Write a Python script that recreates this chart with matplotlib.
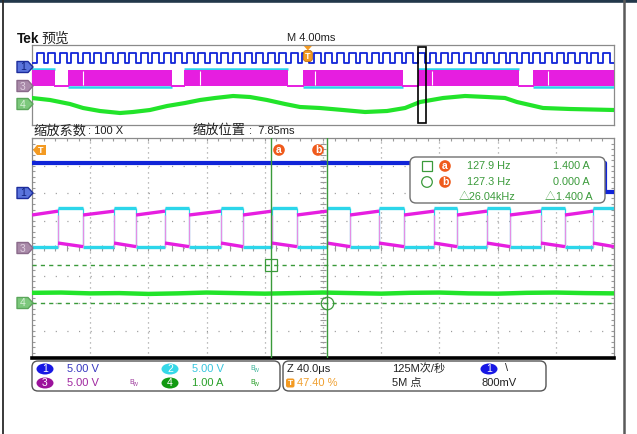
import numpy as np
import matplotlib
matplotlib.use('Agg')
import matplotlib.pyplot as plt
from matplotlib.patches import FancyBboxPatch, Polygon, Ellipse, Rectangle, Circle

plt.rcParams['font.family'] = ['Liberation Sans', 'Noto Sans CJK SC', 'DejaVu Sans']

# ---------------- data ----------------
# overview record: 4 ms/div, 10 div
ov_span_ms = 40.0
trigger_pct = 47.40
zoom_pos_ms = 7.85
zoom_span_ms = 0.40
ov_ch1_rise_ms = [0.32, 1.11, 1.91, 2.70, 3.50, 4.29, 5.08, 5.88, 6.67, 7.47,
                  8.26, 9.05, 9.85, 10.64, 11.44, 12.23, 13.02, 13.82, 14.61, 15.41,
                  16.20, 16.99, 17.79, 18.58, 19.38, 20.17, 20.96, 21.76, 22.55, 23.35,
                  24.14, 24.93, 25.73, 26.52, 27.32, 28.11, 28.90, 29.70, 30.49, 31.29,
                  32.08, 32.87, 33.67, 34.46, 35.26, 36.05, 36.84, 37.64, 38.43, 39.23]
ov_ch1_width_ms = 0.48
ov_ch1_levels_V = [2.0, 7.0]          # low, high
ov_ch3_levels_V = [0.0, 8.0]          # band bottom, top
ov_ch2_levels_V = [-0.4, 8.6]         # band bottom, top
ov_gaps_ms = [(1.58, 2.47), (9.62, 10.45), (17.60, 18.60), (25.50, 26.50), (33.50, 34.40)]
ov_seams_ms = [3.51, 11.55, 19.45, 27.49, 35.46]
ov_ch4_t_ms = [0, 1.24, 2.61, 3.51, 4.67, 6.05, 6.94, 8.11, 9.28, 10.52, 11.55, 12.58,
               13.82, 14.98, 16.15, 17.39, 18.42, 19.79, 21.37, 22.89, 24.40, 25.64,
               26.67, 28.25, 29.76, 31.27, 32.51, 33.33, 34.23, 35.12, 36.98, 40.0]
ov_ch4_A = [0.6, 0.4, 0.0, -0.4, -0.7, -0.9, -0.8, -0.6, -0.2, 0.1, 0.4, 0.6,
            0.8, 0.7, 0.4, 0.0, -0.3, -0.4, -0.6, -0.8, -0.7, -0.4,
            0.2, 0.6, 0.8, 0.7, 0.6, 0.2, -0.1, -0.4, -0.5, -0.6]

# zoom window: 40 us/div, 10 div
main_span_us = 400.0
ch1_fall_us = 394.0
ch1_levels_V = [0.2, 5.5]
ch2_rise_us = [17.9, 56.4, 91.4, 129.9, 164.9, 202.7, 238.5, 276.3, 312.7, 349.8, 385.6]
ch2_fall_us = [35.1, 71.5, 107.9, 145.0, 182.1, 218.6, 255.7, 292.1, 328.5, 366.3]
ch2_levels_V = [0.1, 7.3]
ch3_high_V = [6.0, 6.7]   # start, end of each high segment
ch3_low_V = [0.9, 0.25]   # start, end of each low segment
ch4_t_us = [0, 20, 40, 60, 80, 100, 120, 140, 160, 180, 200, 220, 240, 260, 280,
            300, 320, 340, 360, 380, 400]
ch4_A = [0.37, 0.38, 0.35, 0.36, 0.33, 0.35, 0.38, 0.36, 0.34, 0.36, 0.38, 0.36,
         0.34, 0.37, 0.38, 0.35, 0.34, 0.37, 0.38, 0.36, 0.35]
cursor_t_us = [164.6, 203.0]
cursor_A = [1.400, 0.000]

ch_offset_div = {1: 2.0, 2: 0.0, 3: 0.0, 4: -2.0}
ov_offset_div = {1: 1.8, 2: -0.1, 3: -0.1, 4: -1.9}
ch_scale = {1: 5.0, 2: 5.0, 3: 5.0, 4: 1.0}

# ---------------- style ----------------
W, H = 637, 434
OV_BOX = (32, 45, 614, 125)
MAIN_BOX = (32, 138, 614, 358)
BLUE = '#1024d8'
CYAN = '#2cd6ea'
MAG = '#e61ee0'
MAG_EDGE = '#e48ee4'
GREEN = '#22e42a'
CURG = '#3a9a3a'
ORANGE = '#ef5b1c'
TORANGE = '#f39a22'
GRID = '#9a9a9a'

fig = plt.figure(figsize=(W / 100, H / 100), dpi=100)
fig.patch.set_facecolor('white')


def px_axes(l, t, r, b, z):
    a = fig.add_axes([l / W, 1 - b / H, (r - l) / W, (b - t) / H], zorder=z)
    a.set_xticks([])
    a.set_yticks([])
    return a


def ydiv(ch, v, offs=ch_offset_div):
    return offs[ch] + np.asarray(v, dtype=float) / ch_scale[ch]


# ---------------- overview ----------------
ov = px_axes(*OV_BOX, 2)
ov.set_xlim(0, ov_span_ms)
ov.set_ylim(-4, 4)
for s in ov.spines.values():
    s.set_color('#8a8a8a')
    s.set_linewidth(0.9)

# ch1 square wave
xs, ys = [0.0], [ov_ch1_levels_V[0]]
for r in ov_ch1_rise_ms:
    f = r + ov_ch1_width_ms
    xs += [r, r, f, f]
    ys += [ov_ch1_levels_V[0], ov_ch1_levels_V[1], ov_ch1_levels_V[1], ov_ch1_levels_V[0]]
xs.append(ov_span_ms)
ys.append(ov_ch1_levels_V[0])
ov.plot(xs, ydiv(1, ys, ov_offset_div), color=BLUE, lw=1.3, zorder=5)

# ch2 / ch3 bands
seg_edges = [0.0] + [v for g in ov_gaps_ms for v in g] + [ov_span_ms]
segs = [(seg_edges[2 * i], seg_edges[2 * i + 1]) for i in range(len(seg_edges) // 2)]
c2b, c2t = ydiv(2, ov_ch2_levels_V, ov_offset_div)
c3b, c3t = ydiv(3, ov_ch3_levels_V, ov_offset_div)
for i, (a, b) in enumerate(segs):
    lvl = c2t if i % 2 == 0 else c2b
    ov.plot([a, b], [lvl, lvl], color=CYAN, lw=1.8, zorder=3, solid_capstyle='butt')
    ov.fill_between([a, b], c3b, c3t, color=MAG, lw=0, zorder=4)
for (a, b) in ov_gaps_ms:
    ov.plot([a, b], [c3b, c3b], color=MAG, lw=1.4, zorder=4)
ov.vlines(ov_seams_ms, c3b + 0.1, c3t - 0.1, color='white', lw=0.8, zorder=4.5)

# ch4
ov.plot(ov_ch4_t_ms, ydiv(4, ov_ch4_A, ov_offset_div), color=GREEN, lw=3.0, zorder=5)

# zoom window box
trig_ms = ov_span_ms * trigger_pct / 100
zc = trig_ms + zoom_pos_ms
ov.add_patch(Rectangle((zc - zoom_span_ms / 2 - 0.05, -3.8), zoom_span_ms + 0.1, 7.6,
                       fc='none', ec='black', lw=1.2, zorder=8))

# ---------------- main (zoom) ----------------
mn = px_axes(*MAIN_BOX, 2)
mn.set_xlim(0, main_span_us)
mn.set_ylim(-4, 4)
for k in ['top', 'left', 'right']:
    mn.spines[k].set_color('#8a8a8a')
    mn.spines[k].set_linewidth(0.9)
mn.spines['bottom'].set_color('black')
mn.spines['bottom'].set_linewidth(2.6)

# graticule
for k in range(1, 10):
    mn.axvline(k * 40, color=GRID, lw=0.9, ls=(0, (0.9, 3.1)), zorder=1)
for k in range(-3, 4):
    mn.axhline(k, color=GRID, lw=0.9, ls=(0, (0.9, 8.4)), zorder=1)
minor_y = np.linspace(-4, 4, 41)
minor_x = np.linspace(0, 400, 51)
mn.plot(np.full(41, 200.0), minor_y, ls='none', marker='_', ms=4.5, mew=0.8, color=GRID, zorder=1)
mn.plot(minor_x, np.zeros(51), ls='none', marker='|', ms=4.5, mew=0.8, color=GRID, zorder=1)
mn.plot(np.zeros(41), minor_y, ls='none', marker='_', ms=4, mew=0.8, color=GRID, zorder=1)
mn.plot(np.full(41, 400.0), minor_y, ls='none', marker='_', ms=4, mew=0.8, color=GRID, zorder=1)
mn.plot(minor_x, np.full(51, 4.0), ls='none', marker='|', ms=4, mew=0.8, color=GRID, zorder=1)


def step_segments(rise, fall, t_end, start_high=False):
    ev = sorted([(t, 1) for t in rise] + [(t, 0) for t in fall])
    out, t0, st = [], 0.0, int(start_high)
    for t, s in ev:
        out.append((t0, t, st))
        t0, st = t, s
    out.append((t0, t_end, st))
    return out


segs2 = step_segments(ch2_rise_us, ch2_fall_us, main_span_us)
edges = ch2_rise_us + ch2_fall_us
# ch2 cyan
lo2, hi2 = ydiv(2, ch2_levels_V)
for t0, t1, st in segs2:
    lv = hi2 if st else lo2
    mn.plot([t0, t1], [lv, lv], color=CYAN, lw=2.4, solid_capstyle='butt', zorder=3)
mn.vlines(edges, lo2, hi2, color=CYAN, lw=0.9, zorder=2.9)
# ch3 magenta (complementary)
for t0, t1, st in segs2:
    vals = ch3_low_V if st else ch3_high_V
    mn.plot([t0, t1], ydiv(3, vals), color=MAG, lw=2.4, solid_capstyle='butt', zorder=3.5)
mn.vlines(edges, ydiv(3, ch3_low_V[1]), ydiv(3, ch3_high_V[0]), color=MAG_EDGE, lw=0.9, zorder=3.4)
# ch1 blue
mn.plot([0, ch1_fall_us, ch1_fall_us, main_span_us],
        ydiv(1, [ch1_levels_V[1], ch1_levels_V[1], ch1_levels_V[0], ch1_levels_V[0]]),
        color=BLUE, lw=3.0, zorder=4)
# ch4 green
mn.plot(ch4_t_us, ydiv(4, ch4_A), color=GREEN, lw=3.2, zorder=4)

# cursors
for t in cursor_t_us:
    mn.axvline(t, color=CURG, lw=1.0, zorder=5)
for a in cursor_A:
    mn.axhline(ydiv(4, a), color=CURG, lw=1.0, ls=(0, (3, 3)), zorder=5)
mn.plot([cursor_t_us[0]], [ydiv(4, cursor_A[0])], marker='s', ms=8, mfc='none', mec=CURG, mew=0.9, zorder=6)
mn.plot([cursor_t_us[1]], [ydiv(4, cursor_A[1])], marker='o', ms=9, mfc='none', mec=CURG, mew=0.9, zorder=6)

# ---------------- overlay (texts, markers, frames) ----------------
ol = fig.add_axes([0, 0, 1, 1], zorder=10)
ol.set_xlim(0, W)
ol.set_ylim(H, 0)
ol.axis('off')
ol.patch.set_alpha(0)

# outer frame
ol.plot([0, W], [1.3, 1.3], color='#22384a', lw=2.6)
ol.plot([2.6, 2.6], [0, H], color='#2a2a2a', lw=1.3)
ol.plot([623.5, 623.5], [0, H], color='#5a5a5a', lw=1.8)

# headings
ol.text(16.5, 39, 'Tek', fontsize=9.8, fontweight='bold', va='center', color='#111111')
ol.text(41, 39, '预览', fontsize=10, va='center', color='#222222')
ol.text(287, 38, 'M 4.00ms', fontsize=8, va='center', color='#222222')
ol.text(33, 131, '缩放系数', fontsize=9.5, va='center', color='#222222')
ol.text(88, 131.5, ': 100 X', fontsize=8, va='center', color='#222222')
ol.text(192, 131, '缩放位置', fontsize=9.5, va='center', color='#222222')
ol.text(249, 131.5, ':  7.85ms', fontsize=8, va='center', color='#222222')


def ch_marker(yc, fc, ec, txt, tc):
    pts = [(17, yc - 5.5), (28, yc - 5.5), (33, yc), (28, yc + 5.5), (17, yc + 5.5)]
    ol.add_patch(Polygon(pts, closed=True, fc=fc, ec=ec, lw=1.0, joinstyle='round'))
    ol.text(23, yc + 0.5, txt, fontsize=7.5, ha='center', va='center', color=tc)


def ov_px(div):
    return OV_BOX[1] + (4 - div) * (OV_BOX[3] - OV_BOX[1]) / 8


def mn_px(div):
    return MAIN_BOX[1] + (4 - div) * (MAIN_BOX[3] - MAIN_BOX[1]) / 8


markers = {1: ('#5a74dc', '#1c2c9c', '1', '#10207a'),
           3: ('#a98aa9', '#8a6a8a', '3', '#e0d0e0'),
           4: ('#7cc87c', '#5aa65a', '4', '#d8f0d8')}
for ch, (fc, ec, t, tc) in markers.items():
    ch_marker(ov_px(ov_offset_div[ch]), fc, ec, t, tc)
    ch_marker(mn_px(ch_offset_div[ch]), fc, ec, t, tc)

# trigger markers
tx = OV_BOX[0] + trig_ms / ov_span_ms * (OV_BOX[2] - OV_BOX[0])
ol.add_patch(Polygon([(tx - 4, 46), (tx + 4, 46), (tx, 50.5)], closed=True, fc=TORANGE, ec='none'))
ol.add_patch(FancyBboxPatch((tx - 4.5, 50.5), 9, 11, boxstyle='round,pad=0,rounding_size=3',
                            fc=TORANGE, ec='#c07010', lw=0.6))
ol.text(tx, 56.5, 'T', fontsize=6.5, ha='center', va='center', color='white', fontweight='bold')
ol.add_patch(Polygon([(33, 150), (37, 145), (46, 145), (46, 155), (37, 155)], closed=True,
                     fc=TORANGE, ec='none'))
ol.text(40.5, 150.3, 'T', fontsize=6.5, ha='center', va='center', color='white', fontweight='bold')


def orange_label(x, y, t):
    ol.add_patch(Circle((x, y), 5.8, fc=ORANGE, ec='none'))
    ol.text(x, y - 0.3, t, fontsize=7.5, ha='center', va='center', color='white', fontweight='bold')


orange_label(279, 150, 'a')
orange_label(318, 150, 'b')

# cursor readout
ol.add_patch(FancyBboxPatch((410, 157), 195, 46, boxstyle='round,pad=0,rounding_size=6',
                            fc='white', ec='#707070', lw=1.0))
ol.add_patch(Rectangle((422, 161), 10, 10, fc='none', ec=CURG, lw=0.9))
ol.add_patch(Circle((427, 182), 5.3, fc='none', ec=CURG, lw=0.9))
orange_label(445, 166, 'a')
orange_label(445, 182, 'b')
fs = 7.8
ol.text(467, 166, '127.9 Hz', fontsize=fs, va='center', color=CURG)
ol.text(467, 182, '127.3 Hz', fontsize=fs, va='center', color=CURG)
ol.text(590, 166, '1.400 A', fontsize=fs, va='center', ha='right', color=CURG)
ol.text(590, 182, '0.000 A', fontsize=fs, va='center', ha='right', color=CURG)
ol.text(459, 197, '△26.04kHz', fontsize=fs, va='center', color=CURG)
ol.text(593, 197, '△1.400 A', fontsize=fs, va='center', ha='right', color=CURG)

# bottom status boxes
ol.add_patch(FancyBboxPatch((32, 361), 248, 30, boxstyle='round,pad=0,rounding_size=6',
                            fc='white', ec='#555555', lw=1.0))
ol.add_patch(FancyBboxPatch((283, 361), 263, 30, boxstyle='round,pad=0,rounding_size=6',
                            fc='white', ec='#555555', lw=1.0))


def badge(x, y, t, fc):
    ol.add_patch(Ellipse((x, y), 17, 11, fc=fc, ec='none'))
    ol.text(x, y + 0.3, t, fontsize=7.5, ha='center', va='center', color='white')


def bw(x, y, c):
    ol.text(x, y, 'B', fontsize=5.2, va='center', color=c)
    ol.text(x + 3.6, y + 2, 'W', fontsize=3.8, va='center', color=c)


fs2 = 8
badge(45, 369, '1', '#1818e4')
ol.text(67, 369, '5.00 V', fontsize=fs2, va='center', color='#3838c0')
badge(170, 369, '2', '#36d8e8')
ol.text(192, 369, '5.00 V', fontsize=fs2, va='center', color='#38c6de')
bw(250, 369, '#40b49a')
badge(45, 383, '3', '#9c129c')
ol.text(67, 383, '5.00 V', fontsize=fs2, va='center', color='#a028a0')
bw(129, 383, '#a040a0')
badge(170, 383, '4', '#129a12')
ol.text(192, 383, '1.00 A', fontsize=fs2, va='center', color='#28a028')
bw(250, 383, '#2aa02a')

ol.text(287, 369, 'Z 40.0μs', fontsize=fs2, va='center', color='#222222')
ol.add_patch(FancyBboxPatch((286, 378.5), 8.5, 9, boxstyle='round,pad=0,rounding_size=2',
                            fc=TORANGE, ec='none'))
ol.text(290.3, 383.3, 'T', fontsize=6, ha='center', va='center', color='white', fontweight='bold')
ol.text(297, 383, '47.40 %', fontsize=fs2, va='center', color='#f0a030')
ol.text(392, 368.5, '125M次/秒', fontsize=fs2, va='center', color='#222222')
ol.text(392, 383, '5M 点', fontsize=fs2, va='center', color='#222222')
badge(489, 369, '1', '#1818e4')
ol.text(505, 368, '\\', fontsize=8, va='center', color='#222222')
ol.text(482, 383, '800mV', fontsize=fs2, va='center', color='#222222')

fig.savefig('out.png', dpi=100)
